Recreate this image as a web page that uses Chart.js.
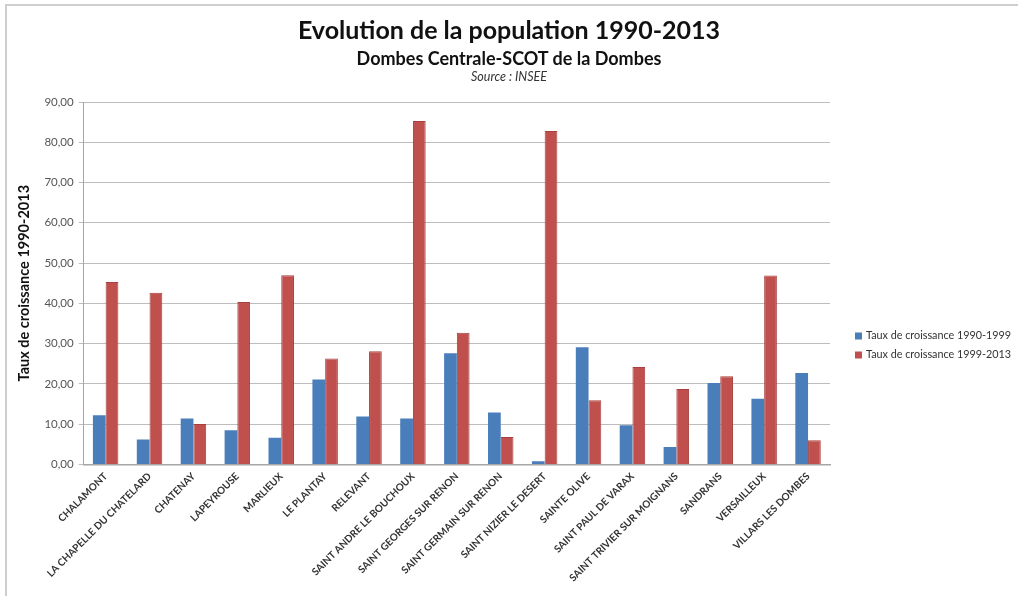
<!DOCTYPE html>
<html>
<head>
<meta charset="utf-8">
<script src="https://cdn.jsdelivr.net/npm/chart.js@4"></script>
<style>
  body { margin: 0; background: #fff; }
  #wrap { position: relative; width: 1018px; height: 596px; overflow: hidden; }
  #frame { position: absolute; left: 5px; top: 4px; right: -5px; bottom: -5px;
           border-top: 2px solid #cfcfcf; border-left: 2px solid #cfcfcf; }
  .hd { position: absolute; left: 0; width: 1018px; text-align: center; font-family: Lato, "Open Sans", sans-serif; color: #111; }
  #t1 { top: 14px; font-size: 25px; font-weight: bold; }
  #t2 { top: 47px; font-size: 18px; font-weight: bold; }
  #t3 { top: 69px; font-size: 12.5px; font-style: italic; color: #333; }
  canvas { position: absolute; left: 0; top: 0; }
</style>
</head>
<body>
<div id="wrap">
  <div id="frame"></div>
  <canvas id="popChart" width="1018" height="596"></canvas>
  <div class="hd" id="t1">Evolution de la population 1990-2013</div>
  <div class="hd" id="t2">Dombes Centrale-SCOT de la Dombes</div>
  <div class="hd" id="t3">Source : INSEE</div>
</div>
<script>
// Communes
const communes = [
  "CHALAMONT", "LA CHAPELLE DU CHATELARD", "CHATENAY", "LAPEYROUSE", "MARLIEUX",
  "LE PLANTAY", "RELEVANT", "SAINT ANDRE LE BOUCHOUX", "SAINT GEORGES SUR RENON",
  "SAINT GERMAIN SUR RENON", "SAINT NIZIER LE DESERT", "SAINTE OLIVE",
  "SAINT PAUL DE VARAX", "SAINT TRIVIER SUR MOIGNANS", "SANDRANS", "VERSAILLEUX",
  "VILLARS LES DOMBES"
];
// Taux de croissance (%)
const taux1990_1999 = [12.2, 6.2, 11.4, 8.5, 6.6, 21.1, 11.9, 11.4, 27.6, 12.9, 0.8, 29.1, 9.7, 4.3, 20.2, 16.3, 22.7];
const taux1999_2013 = [45.3, 42.6, 10.0, 40.3, 47.0, 26.3, 28.1, 85.3, 32.7, 6.8, 82.8, 15.9, 24.2, 18.7, 21.9, 46.9, 6.0];
const seriesLabels = ["Taux de croissance 1990-1999", "Taux de croissance 1999-2013"];
const yTicks = [0, 10, 20, 30, 40, 50, 60, 70, 80, 90];

const blue = "#4a7ebb";
const red = "#c0504d";

// legend drawn by hand so it sits where Excel put it
const sideLegend = {
  id: "sideLegend",
  afterDraw(chart) {
    const ctx = chart.ctx;
    const colors = [blue, red];
    ctx.save();
    ctx.font = "10.8px Lato, 'Open Sans', sans-serif";
    ctx.textBaseline = "middle";
    seriesLabels.forEach((lab, i) => {
      const y = 336 + i * 19;
      ctx.fillStyle = colors[i];
      ctx.fillRect(855, y - 3.5, 7, 7);
      ctx.fillStyle = "#333";
      ctx.fillText(lab, 866, y);
    });
    ctx.restore();
  }
};

const ctx = document.getElementById("popChart").getContext("2d");
new Chart(ctx, {
  type: "bar",
  data: {
    labels: communes,
    datasets: [
      {
        label: seriesLabels[0],
        data: taux1990_1999,
        backgroundColor: blue,
        borderWidth: 0,
        categoryPercentage: 0.58,
        barPercentage: 1.0,
      },
      {
        label: seriesLabels[1],
        data: taux1999_2013,
        backgroundColor: red,
        borderColor: "#a8403d",
        borderWidth: { top: 1, left: 1, right: 1, bottom: 0 },
        categoryPercentage: 0.58,
        barPercentage: 1.0,
      },
    ],
  },
  options: {
    responsive: false,
    animation: false,
    layout: { padding: { top: 102, left: 16, right: 188, bottom: 6 } },
    plugins: {
      legend: { display: false },
      tooltip: { enabled: false },
    },
    scales: {
      x: {
        grid: { display: false, drawTicks: false },
        border: { display: true, color: "#a6a6a6", width: 1.5 },
        ticks: {
          autoSkip: false,
          maxRotation: 45,
          minRotation: 45,
          padding: 6,
          color: "#333",
          font: { family: "Lato, 'Open Sans', sans-serif", size: 10, weight: "bold" },
        },
      },
      y: {
        min: 0,
        max: 90,
        afterBuildTicks: (axis) => { axis.ticks = yTicks.map((v) => ({ value: v })); },
        grid: { color: "#bdbdbd", lineWidth: 1, tickLength: 5 },
        border: { display: true, color: "#a6a6a6" },
        ticks: {
          padding: 5,
          color: "#555",
          font: { family: "Lato, 'Open Sans', sans-serif", size: 11.5 },
          callback: (v) => Number(v).toFixed(2).replace(".", ","),
        },
        title: {
          display: true,
          text: "Taux de croissance 1990-2013",
          color: "#111",
          font: { family: "Lato, 'Open Sans', sans-serif", size: 14.5, weight: "bold" },
          padding: { top: 0, bottom: 6 },
        },
      },
    },
  },
  plugins: [sideLegend],
});
</script>
</body>
</html>
